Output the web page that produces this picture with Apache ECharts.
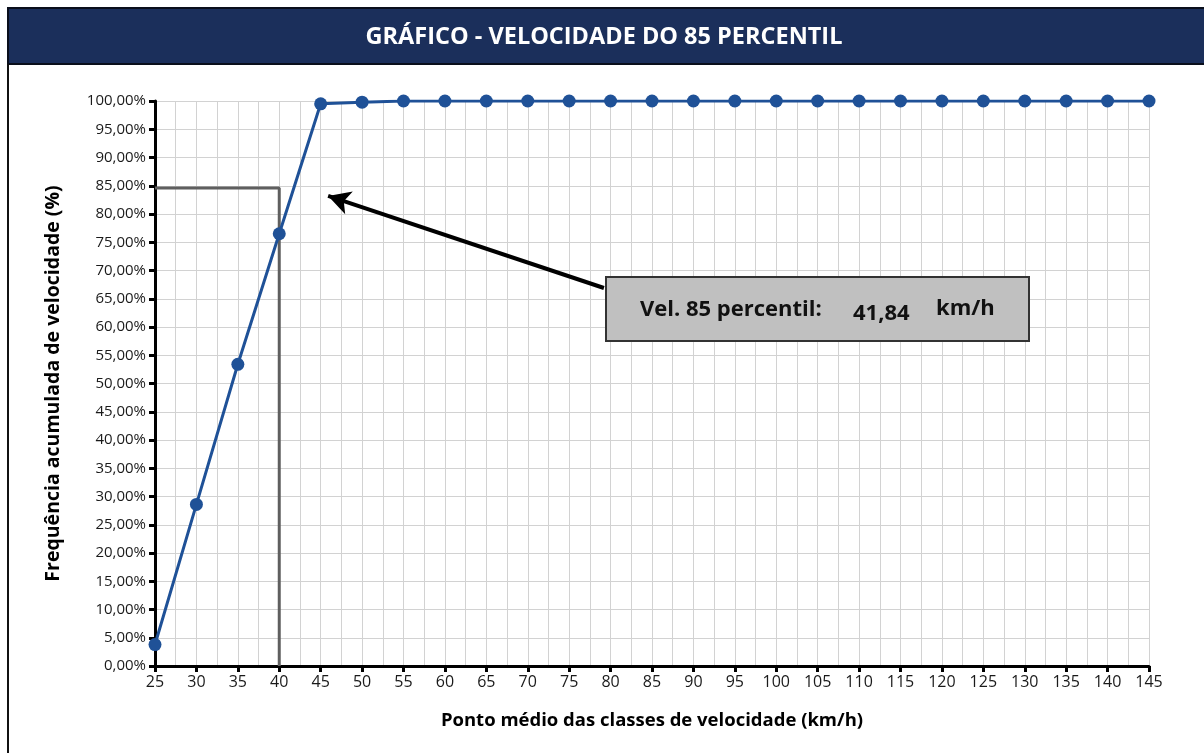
<!DOCTYPE html>
<html><head><meta charset="utf-8">
<script src="https://cdn.jsdelivr.net/npm/echarts@6/dist/echarts.min.js"></script>
<style>html,body{margin:0;padding:0;background:#fff}#c{width:1204px;height:755px}</style>
</head><body><div id="c"></div>
<script>
const titleText = 'GRÁFICO - VELOCIDADE DO 85 PERCENTIL';
const xTitle = 'Ponto médio das classes de velocidade (km/h)';
const yTitle = 'Frequência acumulada de velocidade (%)';
const speeds = [25,30,35,40,45,50,55,60,65,70,75,80,85,90,95,100,105,110,115,120,125,130,135,140,145];
const cumFreq = [3.8,28.6,53.4,76.5,99.5,99.8,100,100,100,100,100,100,100,100,100,100,100,100,100,100,100,100,100,100,100];
const guideX = [25,40,40];
const guideY = [84.6,84.6,0];
const arrowFrom = [79.2,66.9];
const arrowTo = [45.9,83.2];
const boxLabel = 'Vel. 85 percentil:';
const boxValue = '41,84';
const boxUnit = 'km/h';

const font = 'Open Sans';
const chart = echarts.init(document.getElementById('c'), null, {renderer:'canvas'});
chart.setOption({
  animation:false,
  backgroundColor:'#fff',
  grid:{left:155,right:55,top:101,bottom:89},
  xAxis:{type:'value',min:25,max:145,interval:5,
    axisLine:{lineStyle:{color:'#000',width:3}},
    axisTick:{show:true,length:6,lineStyle:{color:'#000',width:3}},
    axisLabel:{color:'#1a1a1a',fontSize:16,fontFamily:font,margin:8},
    splitLine:{show:true,lineStyle:{color:'#d2d2d2',width:1}},
    minorTick:{show:false,splitNumber:2},
    minorSplitLine:{show:true,lineStyle:{color:'#d2d2d2',width:1}},
    name:xTitle,nameLocation:'middle',nameGap:45,
    nameTextStyle:{fontFamily:font,fontWeight:'bold',fontSize:18.5,color:'#000'}
  },
  yAxis:{type:'value',min:0,max:100,interval:5,
    axisLine:{show:true,lineStyle:{color:'#000',width:3}},
    axisTick:{show:true,length:6,lineStyle:{color:'#000',width:3}},
    axisLabel:{color:'#1a1a1a',fontSize:15,fontFamily:font,margin:9,
      formatter:v=>v.toFixed(2).replace('.',',')+'%'},
    splitLine:{show:true,lineStyle:{color:'#d2d2d2',width:1}},
    name:yTitle,nameLocation:'middle',nameGap:92,
    nameTextStyle:{fontFamily:font,fontWeight:'bold',fontSize:19.5,color:'#000'}
  },
  series:[
    {type:'line',data:guideX.map((x,i)=>[x,guideY[i]]),symbol:'none',
      lineStyle:{color:'#5f5f5f',width:3},z:2},
    {type:'line',data:speeds.map((x,i)=>[x,cumFreq[i]]),symbol:'circle',symbolSize:13,
      lineStyle:{color:'#1f5197',width:3},itemStyle:{color:'#1f5197'},z:3,
      markLine:{silent:true,symbol:['none','arrow'],symbolSize:[18,22],
        lineStyle:{color:'#000',width:4,type:'solid'},label:{show:false},
        data:[[{coord:arrowFrom},{coord:arrowTo}]]}
    }
  ],
  graphic:[
    {type:'rect',shape:{x:8,y:8,width:1204,height:56},style:{fill:'#1b2f5b',stroke:'#0a0f1c',lineWidth:2},z:10},
    {type:'line',shape:{x1:8,y1:64,x2:8,y2:753},style:{stroke:'#111',lineWidth:2},z:10},
    {type:'text',x:604,y:37,style:{text:titleText,fill:'#fff',font:'bold 23.5px "Open Sans"',align:'center',verticalAlign:'middle'},z:11},
    {type:'rect',shape:{x:606,y:277,width:423,height:64},style:{fill:'#c0c0c0',stroke:'#333',lineWidth:2},z:20},
    {type:'text',x:640,y:310,style:{text:boxLabel,fill:'#111',font:'bold 22px "Open Sans"',align:'left',verticalAlign:'middle'},z:21},
    {type:'text',x:853,y:314,style:{text:boxValue,fill:'#111',font:'bold 22px "Open Sans"',align:'left',verticalAlign:'middle'},z:21},
    {type:'text',x:936,y:309,style:{text:boxUnit,fill:'#111',font:'bold 22px "Open Sans"',align:'left',verticalAlign:'middle'},z:21}
  ]
});
</script></body></html>
